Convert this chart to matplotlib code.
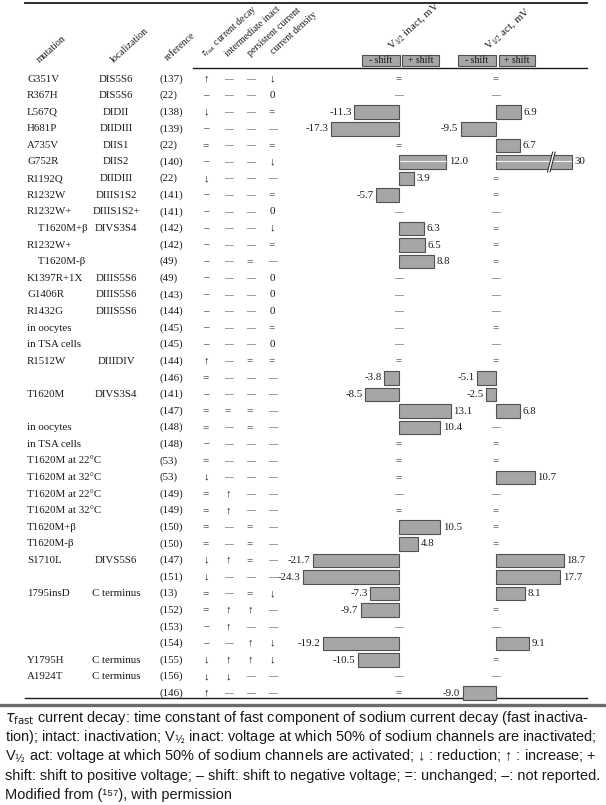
import matplotlib
matplotlib.use('Agg')
import matplotlib.pyplot as plt
from matplotlib.patches import Rectangle

#Table contents, one entry per row
mutation = ['G351V', 'R367H', 'L567Q', 'H681P', 'A735V', 'G752R', 'R1192Q', 'R1232W',
            'R1232W+', '    T1620M+β', 'R1232W+', '    T1620M-β', 'K1397R+1X', 'G1406R',
            'R1432G', 'in oocytes', 'in TSA cells', 'R1512W', '', 'T1620M', '', 'in oocytes',
            'in TSA cells', 'T1620M at 22°C', 'T1620M at 32°C', 'T1620M at 22°C',
            'T1620M at 32°C', 'T1620M+β', 'T1620M-β', 'S1710L', '', '1795insD', '', '', '',
            'Y1795H', 'A1924T', '']
localization = ['DIS5S6', 'DIS5S6', 'DIDII', 'DIIDIII', 'DIIS1', 'DIIS2', 'DIIDIII', 'DIIIS1S2',
                'DIIIS1S2+', 'DIVS3S4', '', '', 'DIIIS5S6', 'DIIIS5S6', 'DIIIS5S6', '', '',
                'DIIIDIV', '', 'DIVS3S4', '', '', '', '', '', '', '', '', '', 'DIVS5S6', '',
                'C terminus', '', '', '', 'C terminus', 'C terminus', '']
reference = ['(137)', '(22)', '(138)', '(139)', '(22)', '(140)', '(22)', '(141)', '(141)', '(142)',
             '(142)', '(49)', '(49)', '(143)', '(144)', '(145)', '(145)', '(144)', '(146)', '(141)',
             '(147)', '(148)', '(148)', '(53)', '(53)', '(149)', '(149)', '(150)', '(150)', '(147)',
             '(151)', '(13)', '(152)', '(153)', '(154)', '(155)', '(156)', '(146)']
tau_decay = ['↑', '–', '↓', '–', '=', '–', '↓', '–', '–', '–', '–', '–', '–', '–', '–', '–', '–',
             '↑', '=', '–', '=', '=', '–', '=', '↓', '=', '=', '=', '=', '↓', '↓', '=', '=', '–',
             '–', '↓', '↓', '↑']
intermediate = ['—'] * 20 + ['=', '—', '—', '—', '—', '↑', '↑', '—', '—', '↑', '—', '—', '↑', '↑',
                             '—', '↑', '↓', '—']
persistent = ['—'] * 11 + ['=', '—', '—', '—', '—', '—', '=', '—', '—', '=', '=', '—', '—', '—',
                           '—', '—', '=', '=', '=', '—', '=', '↑', '—', '↑', '↑', '—', '—']
density = ['↓', '0', '=', '—', '=', '↓', '—', '=', '0', '↓', '=', '—', '0', '0', '0', '=', '0',
           '=', '—', '—', '—', '—', '—', '—', '—', '—', '—', '—', '—', '—', '—', '↓', '—', '—',
           '↓', '↓', '—', '—']

#V1/2 shifts in mV, '=' unchanged, '—' not reported
v_inact = ['=', '—', -11.3, -17.3, '=', 12.0, 3.9, -5.7, '—', 6.3, 6.5, 8.8, '—', '—', '—', '—',
           '—', '=', -3.8, -8.5, 13.1, 10.4, '=', '=', '=', '—', '=', 10.5, 4.8, -21.7, -24.3,
           -7.3, -9.7, '—', -19.2, -10.5, '—', '=']
v_act = ['=', '—', 6.9, -9.5, 6.7, 30, '=', '=', '—', '=', '=', '=', '—', '—', '—', '=', '—', '=',
         -5.1, -2.5, 6.8, '—', '=', '=', 10.7, '—', '=', '=', '=', 18.7, 17.7, 8.1, '=', '—', 9.1,
         '=', '—', -9.0]
act_break = 21.0   #the 30 mV bar is drawn broken at this value

W, H = 606, 805
ROW0, DY = 79, 16.6
INK = '#1a1a1a'
BAR = '#a6a6a6'
EDGE = '#505050'
SERIF = ['Liberation Serif', 'DejaVu Serif']
SANS = ['Liberation Sans', 'DejaVu Sans']

fig = plt.figure(figsize=(W / 100, H / 100), dpi=100)

#Main axes in pixel units for text and rules
ax = fig.add_axes([0, 0, 1, 1])
ax.set_xlim(0, W)
ax.set_ylim(H, 0)
ax.axis('off')

#Rules of the table
ax.plot([25, 587], [3, 3], color=INK, lw=1.3)
ax.plot([193, 587], [68, 68], color=INK, lw=1.0)
ax.plot([25, 587], [698, 698], color=INK, lw=1.0)
ax.plot([0, W], [704.5, 704.5], color='#6a6a6a', lw=2.4)

#Rotated column headers
heads = [(40, 63, 'mutation', 7.2), (114, 63, 'localization', 7.2), (168, 61, 'reference', 7.2),
         (204, 57, r'$\tau_{\rm fast}$ current decay', 7.0), (228, 57, 'intermediate inact', 7.0),
         (251, 57, 'persistent current', 7.0), (274, 55, 'current density', 7.0),
         (392, 50, r'V$_{1/2}$ inact, mV', 7.8), (489, 50, r'V$_{1/2}$ act, mV', 7.8)]
for x, y, s, fs in heads:
    ax.text(x, y, s, rotation=42, rotation_mode='anchor', ha='left', va='baseline',
            fontsize=fs, family=SERIF, color=INK, math_fontfamily='stix')

#shift boxes
for x0, w, s in [(362, 38, '- shift'), (402, 37, '+ shift'), (458, 38, '- shift'), (499, 36, '+ shift')]:
    ax.add_patch(Rectangle((x0, 55), w, 11, facecolor=BAR, edgecolor=EDGE, lw=0.8))
    ax.text(x0 + w / 2, 60.8, s, ha='center', va='center', fontsize=7, family=SERIF, color=INK)

#Table text
cols = [(tau_decay, 206), (intermediate, 228), (persistent, 250), (density, 272)]
for i in range(len(mutation)):
    y = ROW0 + i * DY
    ax.text(27, y, mutation[i], ha='left', va='center', fontsize=7.8, family=SERIF, color=INK)
    ax.text(116, y, localization[i], ha='center', va='center', fontsize=7.8, family=SERIF, color=INK)
    ax.text(159, y, reference[i], ha='left', va='center', fontsize=7.8, family=SERIF, color=INK)
    for values, x in cols:
        s = values[i]
        fs = 6.4 if s == '—' else 8
        ax.text(x, y, s, ha='center', va='center', fontsize=fs, family=SERIF, color=INK)

#Bar axes: x in mV, y in rows
def bar_axes(zero_px, px_per_mv):
    a = fig.add_axes([0, 0, 1, 1], facecolor='none')
    a.set_xlim(-zero_px / px_per_mv, (W - zero_px) / px_per_mv)
    a.set_ylim((H - ROW0) / DY, -ROW0 / DY)
    a.axis('off')
    return a

ax_in = bar_axes(399, 3.95)
ax_act = bar_axes(495.5, 3.65)

def draw_shifts(a, values, cap=None):
    for i, v in enumerate(values):
        if isinstance(v, str):
            fs = 6.4 if v == '—' else 7.8
            a.text(0, i, v, ha='center', va='center', fontsize=fs, family=SERIF, color=INK)
            continue
        w = v if cap is None else min(v, cap)
        a.barh(i, w, height=0.82, color=BAR, edgecolor=EDGE, lw=0.8)
        label = f'{v:.1f}' if isinstance(v, float) else str(v)
        off = 1.8 if v > 0 else -1.8
        a.annotate(label, (w, i), xytext=(off, 0), textcoords='offset points',
                   ha='left' if v > 0 else 'right', va='center', fontsize=7.8,
                   family=SERIF, color=INK)

draw_shifts(ax_in, v_inact)
draw_shifts(ax_act, v_act, cap=act_break)

#White streak through the G752R bars and the break mark
g = mutation.index('G752R')
ax_in.plot([0.2, v_inact[g] - 0.2], [g - 0.05, g - 0.05], color='white', lw=0.8, alpha=0.9)
ax_act.plot([0.2, act_break - 0.2], [g - 0.05, g - 0.05], color='white', lw=0.8, alpha=0.9)
bx = 14.6
ax_act.plot([bx, bx + 1.4], [g + 0.6, g - 0.6], color='white', lw=2.2)
for d in (0, 0.7):
    ax_act.plot([bx - 0.35 + d, bx + 1.05 + d], [g + 0.6, g - 0.6], color=INK, lw=0.7)

#Footnote, one font size fitted so the long lines fill the width like the justified original
notes = [r'$\tau_{\mathrm{fast}}$ current decay: time constant of fast component of sodium current decay (fast inactiva-',
         r'tion); intact: inactivation; V$_{½}$ inact: voltage at which 50% of sodium channels are inactivated;',
         r'V$_{½}$ act: voltage at which 50% of sodium channels are activated; ↓ : reduction; ↑ : increase; +',
         'shift: shift to positive voltage; – shift: shift to negative voltage; =: unchanged; –: not reported.',
         'Modified from (¹⁵⁷), with permission']
renderer = fig.canvas.get_renderer()
texts = []
for k, s in enumerate(notes):
    t = ax.text(5, 718 + k * 19.3, s, ha='left', va='center', fontsize=9, family=SANS,
                color=INK, math_fontfamily='dejavusans')
    texts.append(t)
widest = max(t.get_window_extent(renderer).width for t in texts[:4])
size = 9 * 595 / widest
for t in texts:
    t.set_fontsize(size)

fig.savefig('out.png', dpi=100)
